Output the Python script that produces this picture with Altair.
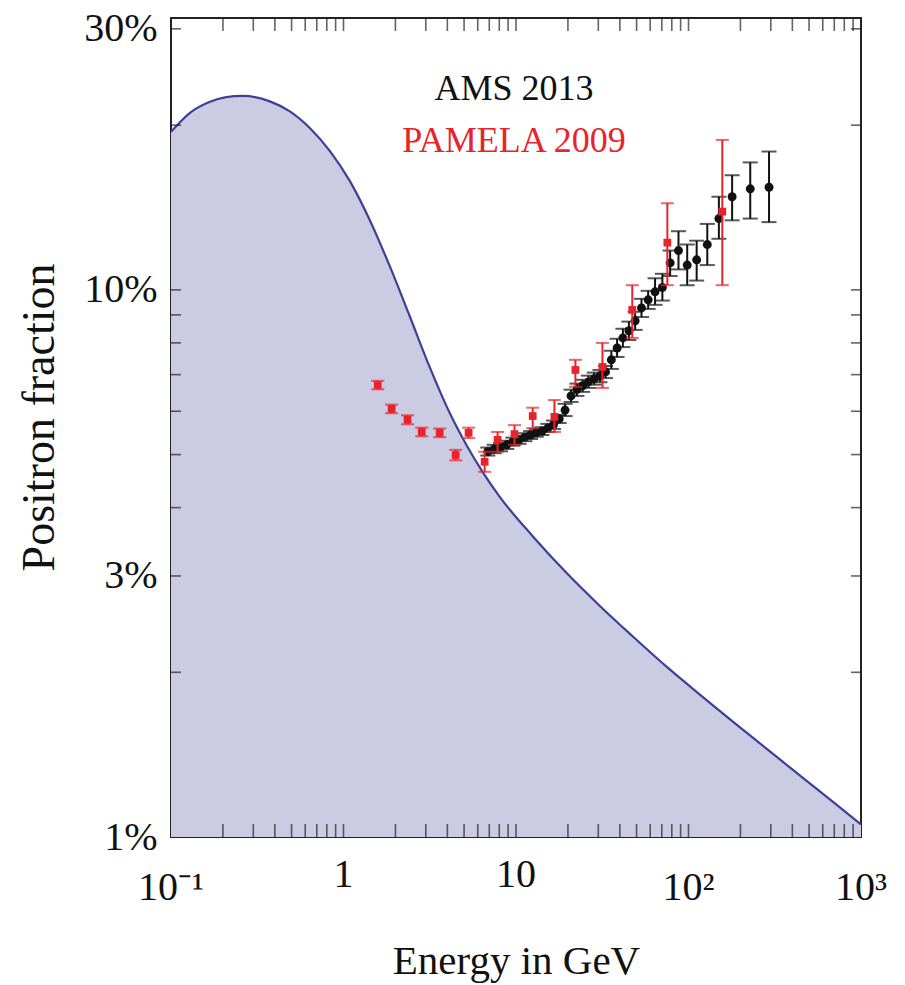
import altair as alt
import pandas as pd

FONT = "Liberation Serif"
W, H = 690, 819          # plot area in px
INK = "#111111"
FILL = "#cccbe4"
CURVE = "#3d4196"
RED = "#e8232b"

# Secondary-production model of the positron fraction (percent vs GeV)
model_energy = [0.100, 0.1288, 0.1682, 0.2054, 0.2611, 0.3742, 0.4885, 0.6376,
                0.8325, 1.087, 1.419, 1.852, 2.418, 3.157, 4.123, 5.17, 6.40,
                8.03, 12.46, 19.60, 30.43, 47.25, 74.3, 115.4, 179.2, 281.9,
                437.7, 679.5, 1000]
model_fraction = [19.45, 21.07, 22.07, 22.49, 22.62, 22.11, 21.20, 19.77,
                  17.95, 15.82, 13.42, 11.06, 8.96, 7.23, 5.96, 5.20, 4.65,
                  4.19, 3.55, 3.04, 2.65, 2.33, 2.05, 1.825, 1.628, 1.452,
                  1.299, 1.163, 1.054]

# AMS 2013 positron fraction (percent) with error bounds
ams_energy = [6.86, 7.48, 8.14, 8.84, 9.59, 10.4, 11.25, 12.15, 13.1, 14.15,
              15.3, 16.5, 17.8, 19.25, 20.85, 22.55, 24.35, 26.3, 28.4, 30.65,
              33.05, 35.7, 38.55, 41.65, 45.15, 49.05, 53.4, 58.35, 64.0, 70.55,
              78.25, 87.5, 98.3, 111.5, 128.5, 150, 179, 228, 293]
ams_fraction = [5.06, 5.12, 5.16, 5.21, 5.28, 5.32, 5.38, 5.43, 5.48, 5.52,
                5.59, 5.67, 5.81, 6.03, 6.40, 6.57, 6.68, 6.79, 6.88, 6.96,
                7.08, 7.45, 7.83, 8.17, 8.42, 8.78, 9.27, 9.59, 9.92, 10.1,
                11.2, 11.8, 11.1, 11.35, 12.1, 13.5, 14.8, 15.3, 15.4]
ams_low = [4.98, 5.03, 5.07, 5.12, 5.19, 5.23, 5.29, 5.34, 5.39, 5.43,
           5.50, 5.57, 5.71, 5.88, 6.24, 6.40, 6.51, 6.62, 6.71, 6.78,
           6.90, 7.17, 7.54, 7.86, 8.10, 8.45, 8.92, 9.23, 9.39, 9.56,
           10.6, 10.9, 10.2, 10.4, 11.1, 12.4, 13.4, 13.5, 13.3]
ams_high = [5.15, 5.21, 5.25, 5.30, 5.37, 5.41, 5.47, 5.52, 5.57, 5.61,
            5.69, 5.77, 5.91, 6.19, 6.57, 6.74, 6.85, 6.97, 7.06, 7.14,
            7.26, 7.74, 8.14, 8.49, 8.75, 9.12, 9.63, 9.96, 10.5, 10.7,
            11.8, 12.8, 12.1, 12.3, 13.2, 14.8, 16.2, 17.1, 17.9]

# PAMELA 2009 positron fraction (percent) with error bounds
pamela_energy = [1.58, 1.90, 2.35, 2.84, 3.61, 4.47, 5.31, 6.58, 7.82, 9.80,
                 12.5, 16.7, 22.1, 31.7, 47.2, 75.4, 157]
pamela_fraction = [6.70, 6.06, 5.79, 5.50, 5.48, 4.99, 5.48, 4.85, 5.32, 5.45,
                   5.88, 5.86, 7.14, 7.23, 9.19, 12.2, 13.9]
pamela_low = [6.58, 5.95, 5.68, 5.40, 5.38, 4.88, 5.36, 4.65, 5.06, 5.21,
              5.59, 5.50, 6.65, 6.62, 8.17, 10.2, 10.2]
pamela_high = [6.82, 6.17, 5.90, 5.60, 5.58, 5.10, 5.60, 5.06, 5.50, 5.66,
               6.09, 6.29, 7.45, 8.00, 10.2, 14.4, 18.8]

series_names = ["AMS 2013", "PAMELA 2009"]
series_colors = [INK, RED]

# axis ticks and labels
x_tick_values = [0.2, 0.3, 0.4, 0.5, 0.6, 0.7, 0.8, 0.9,
                 1, 2, 3, 4, 5, 6, 7, 8, 9,
                 10, 20, 30, 40, 50, 60, 70, 80, 90,
                 100, 200, 300, 400, 500, 600, 700, 800, 900]
y_tick_values = [2, 3, 4, 5, 6, 7, 8, 9, 10, 20, 30]
y_label_values = [1, 3, 10, 30]
x_label_values = [0.1, 1, 10, 100, 1000]
x_label_text = ["10\u207b\u00b9", "1", "10", "10\u00b2", "10\u00b3"]

x_scale = alt.Scale(type="log", domain=[0.1, 1000], nice=False)
y_scale = alt.Scale(type="log", domain=[1, 31.4], nice=False)

x_axis = alt.Axis(labels=False, ticks=False, domain=False, grid=False,
                  title="Energy in GeV", titleFont=FONT, titleFontSize=41,
                  titleFontWeight="normal", titleColor=INK,
                  titleBaseline="alphabetic", titleX=W / 2, titleY=136)
y_axis = alt.Axis(values=y_label_values, labelExpr="datum.value + '%'",
                  labelFont=FONT, labelFontSize=40, labelColor=INK,
                  labelPadding=14, labelFlush=False, labelOverlap=False,
                  ticks=False, domain=False, grid=False,
                  title="Positron fraction", titleFont=FONT, titleFontSize=46,
                  titleFontWeight="normal", titleColor=INK, titleAngle=270,
                  titleBaseline="alphabetic", titleX=-118, titleY=399)


def xq(field):
    return alt.X(field, type="quantitative", scale=x_scale, axis=x_axis)


def yq(field):
    return alt.Y(field, type="quantitative", scale=y_scale, axis=y_axis)


model_df = pd.DataFrame({"energy": model_energy, "fraction": model_fraction})
ams_df = pd.DataFrame({"energy": ams_energy, "fraction": ams_fraction,
                       "low": ams_low, "high": ams_high})
pam_df = pd.DataFrame({"energy": pamela_energy, "fraction": pamela_fraction,
                       "low": pamela_low, "high": pamela_high})

# shaded model band and its outline
area = alt.Chart(model_df).mark_area(color=FILL, interpolate="monotone", clip=True).encode(
    x=xq("energy"), y=yq("fraction"), y2=alt.datum(1))
curve = alt.Chart(model_df).mark_line(color=CURVE, strokeWidth=2.2,
                                      interpolate="monotone", clip=True).encode(
    x=xq("energy"), y=yq("fraction"))

# inward-pointing frame ticks
xt_df = pd.DataFrame({"v": x_tick_values})
yt_df = pd.DataFrame({"v": y_tick_values})
tick_style = dict(color="#222222", thickness=1.6)
bottom_ticks = alt.Chart(xt_df).mark_tick(orient="vertical", size=13, **tick_style).encode(
    x=xq("v"), y=alt.value(H - 6.5))
top_ticks = alt.Chart(xt_df).mark_tick(orient="vertical", size=13, **tick_style).encode(
    x=xq("v"), y=alt.value(6.5))
left_ticks = alt.Chart(yt_df).mark_tick(orient="horizontal", size=10, **tick_style).encode(
    x=alt.value(5), y=yq("v"))
right_ticks = alt.Chart(yt_df).mark_tick(orient="horizontal", size=10, **tick_style).encode(
    x=alt.value(W - 5), y=yq("v"))


def data_layers(df, color, shape, size, cap):
    bars = alt.Chart(df).mark_rule(color=color, strokeWidth=2, clip=True).encode(
        x=xq("energy"), y=yq("low"), y2=alt.Y2("high"))
    lo = alt.Chart(df).mark_tick(orient="horizontal", size=cap, thickness=2,
                                 color=color, clip=True).encode(x=xq("energy"), y=yq("low"))
    hi = alt.Chart(df).mark_tick(orient="horizontal", size=cap, thickness=2,
                                 color=color, clip=True).encode(x=xq("energy"), y=yq("high"))
    pts = alt.Chart(df).mark_point(filled=True, shape=shape, size=size, color=color,
                                   opacity=1, clip=True).encode(
        x=xq("energy"), y=yq("fraction"))
    return [bars, lo, hi, pts]


ams_layers = data_layers(ams_df, INK, "circle", 80, 15)
pam_layers = data_layers(pam_df, RED, "square", 60, 13)

# x tick labels (powers of ten with superscripts sit a little lower)
xl_df = pd.DataFrame({"v": x_label_values, "label": x_label_text})
label_style = dict(font=FONT, fontSize=40, align="center", baseline="alphabetic", color=INK)
plain_labels = alt.Chart(xl_df).transform_filter("length(datum.label) <= 2").mark_text(
    **label_style).encode(x=xq("v"), y=alt.value(869), text="label:N")
power_labels = alt.Chart(xl_df).transform_filter("length(datum.label) > 2").mark_text(
    **label_style).encode(x=xq("v"), y=alt.value(882), text="label:N")

# series legend text
leg_df = pd.DataFrame({"name": series_names, "color": series_colors})
legend_layers = []
for i, name in enumerate(series_names):
    legend_layers.append(
        alt.Chart(leg_df).transform_filter(alt.datum.name == name).mark_text(
            font=FONT, fontSize=36, align="center", baseline="alphabetic").encode(
            x=alt.value(343), y=alt.value(82 + 52 * i), text="name:N",
            color=alt.Color("color:N", scale=None)))

chart = alt.layer(
    area, curve, bottom_ticks, top_ticks, left_ticks, right_ticks,
    *ams_layers, *pam_layers, plain_labels, power_labels, *legend_layers
).properties(
    width=W, height=H,
    padding={"left": 171, "top": 18, "right": 44, "bottom": 148},
    autosize=alt.AutoSizeParams(type="none"),
    background="white",
).configure_view(stroke="#222222", strokeWidth=2)

chart.save("out.html", embed_options={"renderer": "svg", "actions": False})
